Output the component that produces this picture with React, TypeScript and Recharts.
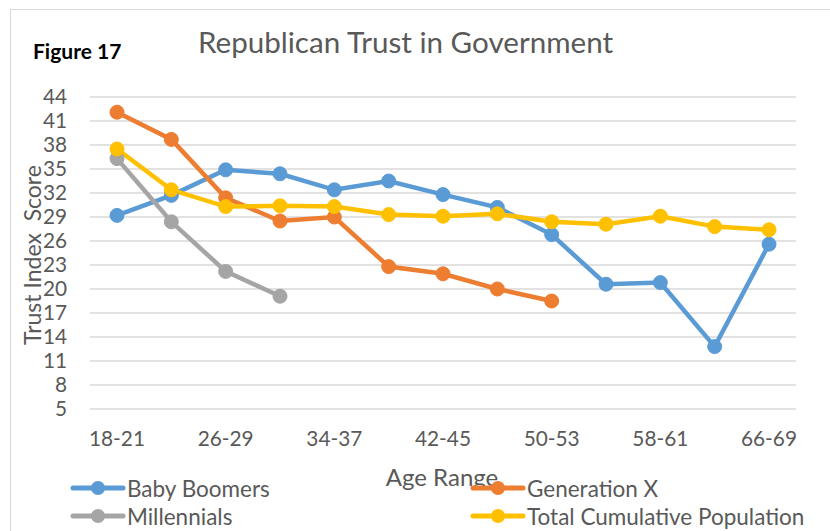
import React from 'react';
import { LineChart, Line, XAxis, YAxis, CartesianGrid, Legend, Label } from 'recharts';

const categories = ['18-21', '22-25', '26-29', '30-33', '34-37', '38-41', '42-45', '46-49', '50-53', '54-57', '58-61', '62-65', '66-69'];
const babyBoomers = [29.2, 31.7, 34.9, 34.4, 32.4, 33.5, 31.8, 30.2, 26.8, 20.6, 20.8, 12.8, 25.6];
const generationX: (number | null)[] = [42.1, 38.7, 31.4, 28.5, 29.0, 22.8, 21.9, 20.0, 18.5, null, null, null, null];
const millennials: (number | null)[] = [36.3, 28.4, 22.2, 19.1, null, null, null, null, null, null, null, null, null];
const totalPopulation = [37.5, 32.4, 30.3, 30.4, 30.3, 29.3, 29.1, 29.4, 28.4, 28.1, 29.1, 27.8, 27.4];
const yTicks = [5, 8, 11, 14, 17, 20, 23, 26, 29, 32, 35, 38, 41, 44];

const seriesNames = ['Baby Boomers', 'Generation X', 'Millennials', 'Total Cumulative Population'];
const seriesColors = ['#5b9bd5', '#ed7d31', '#a5a5a5', '#ffc000'];

const data = categories.map((c, i) => ({
  age: c,
  bb: babyBoomers[i],
  gx: generationX[i],
  mil: millennials[i],
  total: totalPopulation[i],
}));

const FONT = 'Lato, "Open Sans", sans-serif';
const TEXT = '#595959';

const legendPos = [
  { left: 70, top: 488 },
  { left: 470, top: 488 },
  { left: 70, top: 516 },
  { left: 470, top: 516 },
];

const LegendContent = (props: any) => {
  const payload = props.payload || [];
  return (
    <div style={{ position: 'relative', height: 0, width: 830 }}>
      {payload.map((p: any, i: number) => {
        const idx = seriesNames.indexOf(p.value);
        const pos = legendPos[idx >= 0 ? idx : i];
        return (
          <div key={p.value} style={{ position: 'absolute', left: pos.left, top: pos.top - 14, height: 28, display: 'flex', alignItems: 'center', whiteSpace: 'nowrap' }}>
            <svg width={56} height={28} style={{ display: 'block' }}>
              <line x1={3} y1={14} x2={53} y2={14} stroke={p.color} strokeWidth={5} strokeLinecap="round" />
              <circle cx={28} cy={14} r={7} fill={p.color} />
            </svg>
            <span style={{ fontFamily: FONT, fontSize: 22.5, color: TEXT, marginLeft: 1 }}>{p.value}</span>
          </div>
        );
      })}
    </div>
  );
};

export default function App() {
  return (
    <div style={{ position: 'absolute', left: 0, top: 0, width: 830, height: 531, overflow: 'hidden', background: '#fff' }}>
      <div style={{ position: 'absolute', left: 10, top: 9, width: 900, height: 600, border: '1.5px solid #d9d9d9' }} />
      <div style={{ position: 'absolute', left: 33, top: 38, fontFamily: FONT, fontWeight: 700, fontSize: 21, color: '#000', whiteSpace: 'nowrap' }}>Figure 17</div>
      <div style={{ position: 'absolute', left: 0, width: 811, top: 24, textAlign: 'center', fontFamily: FONT, fontSize: 29.6, color: TEXT, whiteSpace: 'nowrap' }}>Republican Trust in Government</div>
      <div style={{ position: 'absolute', left: 0, top: 0 }}>
        <LineChart width={830} height={531} data={data} margin={{ top: 97, right: 34, left: 50, bottom: 92 }}>
          <CartesianGrid vertical={false} stroke="#d9d9d9" strokeWidth={1.5} />
          <XAxis
            dataKey="age"
            interval={1}
            padding={{ left: 27, right: 27 }}
            axisLine={false}
            tickLine={false}
            tickSize={0}
            tickMargin={22}
            height={30}
            tick={{ fill: TEXT, fontSize: 20.8, fontFamily: FONT }}
          >
            <Label
              content={(p: any) => {
                const vb = p.viewBox || {};
                return (
                  <text x={442} y={vb.y + 77} textAnchor="middle" fill={TEXT} fontSize={24} fontFamily={FONT}>Age Range</text>
                );
              }}
            />
          </XAxis>
          <YAxis
            domain={[5, 44]}
            ticks={yTicks}
            interval={0}
            axisLine={false}
            tickLine={false}
            tickSize={0}
            tickMargin={23}
            width={40}
            tick={{ fill: TEXT, fontSize: 20.8, fontFamily: FONT }}
          >
            <Label
              content={() => (
                <text x={41} y={255} transform="rotate(-90 41 255)" textAnchor="middle" fill={TEXT} fontSize={23} fontFamily={FONT} style={{ whiteSpace: 'pre' }}>{'Trust Index  Score'}</text>
              )}
            />
          </YAxis>
          <Legend content={<LegendContent />} wrapperStyle={{ left: 0, top: 0, width: 830, height: 0 }} />
          <Line name={seriesNames[0]} dataKey="bb" stroke={seriesColors[0]} strokeWidth={4.5} dot={{ r: 7, fill: seriesColors[0], stroke: seriesColors[0], strokeWidth: 1 }} activeDot={false} isAnimationActive={false} />
          <Line name={seriesNames[1]} dataKey="gx" stroke={seriesColors[1]} strokeWidth={4.5} dot={{ r: 7, fill: seriesColors[1], stroke: seriesColors[1], strokeWidth: 1 }} activeDot={false} isAnimationActive={false} />
          <Line name={seriesNames[2]} dataKey="mil" stroke={seriesColors[2]} strokeWidth={4.5} dot={{ r: 7, fill: seriesColors[2], stroke: seriesColors[2], strokeWidth: 1 }} activeDot={false} isAnimationActive={false} />
          <Line name={seriesNames[3]} dataKey="total" stroke={seriesColors[3]} strokeWidth={4.5} dot={{ r: 7, fill: seriesColors[3], stroke: seriesColors[3], strokeWidth: 1 }} activeDot={false} isAnimationActive={false} />
        </LineChart>
      </div>
    </div>
  );
}
